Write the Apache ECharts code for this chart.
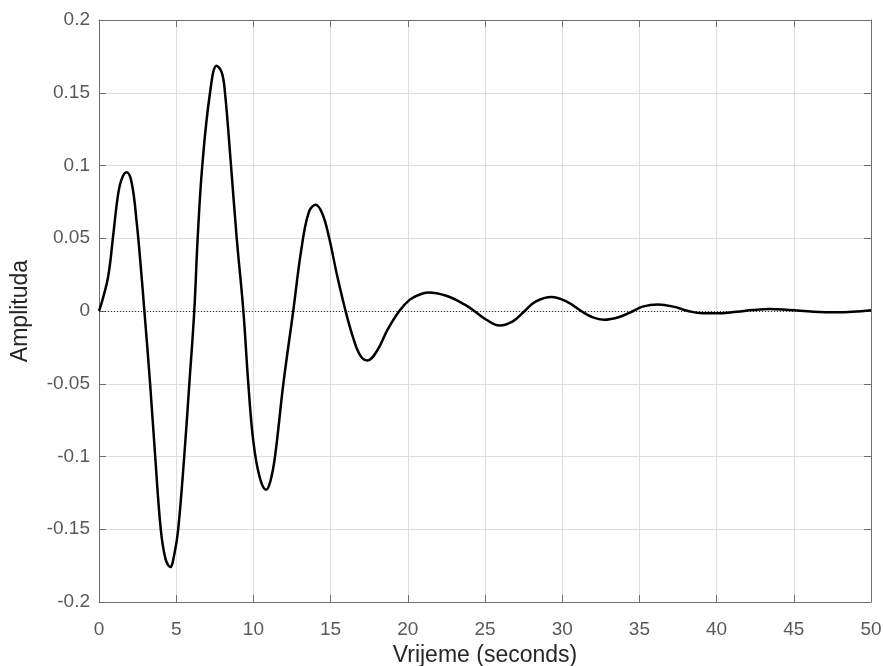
<!DOCTYPE html>
<html>
<head>
<meta charset="utf-8">
<script src="https://cdn.jsdelivr.net/npm/echarts@6/dist/echarts.min.js"></script>
<style>
html,body{margin:0;padding:0;background:#fff;}
#chart{width:883px;height:666px;}
</style>
</head>
<body>
<div id="chart"></div>
<script>
// Time (s)
var timeValues = [0, 0.2, 0.6, 0.93, 1.25, 1.5, 1.79, 2.12, 2.45, 2.7, 2.94, 3.31, 3.64, 4.0, 4.3, 4.61, 4.9, 5.13, 5.52, 5.85, 6.17, 6.39, 6.69, 7.19, 7.62, 7.95, 8.16, 8.55, 8.92, 9.35, 9.67, 10.0, 10.4, 10.82, 11.1, 11.4, 11.94, 12.58, 13.1, 13.59, 14.03, 14.46, 14.89, 15.43, 15.97, 16.51, 16.95, 17.38, 18.03, 18.68, 19.45, 20.13, 20.7, 21.3, 22.5, 23.69, 24.3, 25.09, 25.95, 26.8, 27.57, 28.3, 29.3, 30.26, 31.23, 31.99, 32.7, 33.7, 34.6, 35.2, 36.2, 37.2, 38.1, 39.1, 40.0, 41.3, 42.35, 43.4, 44.7, 46.3, 47.8, 50];
// Amplitude
var amplitudeValues = [0, 0.0066, 0.024, 0.053, 0.081, 0.0915, 0.0953, 0.088, 0.06, 0.031, 0, -0.05, -0.1, -0.15, -0.17, -0.176, -0.166, -0.15, -0.1, -0.05, 0, 0.05, 0.1, 0.15, 0.1686, 0.164, 0.15, 0.1, 0.05, 0, -0.05, -0.09, -0.114, -0.1228, -0.117, -0.1, -0.05, 0, 0.042, 0.068, 0.073, 0.067, 0.051, 0.024, 0, -0.02, -0.031, -0.034, -0.027, -0.013, 0, 0.0078, 0.011, 0.0128, 0.0105, 0.0044, 0, -0.006, -0.0099, -0.0071, 0, 0.0066, 0.0096, 0.0066, 0, -0.0044, -0.006, -0.0041, 0, 0.003, 0.0044, 0.003, 0.0002, -0.0016, -0.0016, -0.0005, 0.0007, 0.0014, 0.0007, -0.0005, -0.0009, 0.0005];
var xTickRange = [0, 50, 5];
var yTickRange = [-0.2, 0.2, 0.05];
var xTitle = 'Vrijeme (seconds)';
var yTitle = 'Amplituda';

var points = timeValues.map(function (t, i) { return [t, amplitudeValues[i]]; });

var FONT = '"Liberation Sans", Arial, Helvetica, sans-serif';
var AXIS_COLOR = '#6e6e6e';
var LABEL_COLOR = '#595959';
var GRID_COLOR = '#dedede';

var chart = echarts.init(document.getElementById('chart'), null, {renderer: 'canvas'});
chart.setOption({
  animation: false,
  backgroundColor: '#ffffff',
  grid: {left: 99, right: 12, top: 20, bottom: 64, containLabel: false, outerBoundsMode: 'none'},
  xAxis: [{
    type: 'value', position: 'bottom',
    min: xTickRange[0], max: xTickRange[1], interval: xTickRange[2],
    axisLine: {show: true, onZero: false, lineStyle: {color: AXIS_COLOR, width: 1}},
    axisTick: {show: true, inside: true, length: 7, lineStyle: {color: AXIS_COLOR}},
    axisLabel: {show: true, margin: 18, color: LABEL_COLOR, fontSize: 19, fontFamily: FONT},
    splitLine: {show: true, lineStyle: {color: GRID_COLOR, width: 1}},
    name: xTitle, nameLocation: 'middle', nameGap: 42,
    nameTextStyle: {color: '#262626', fontSize: 23, fontFamily: FONT}
  }, {
    type: 'value', position: 'top',
    min: xTickRange[0], max: xTickRange[1], interval: xTickRange[2],
    axisLine: {show: true, onZero: false, lineStyle: {color: AXIS_COLOR, width: 1}},
    axisTick: {show: true, inside: true, length: 7, lineStyle: {color: AXIS_COLOR}},
    axisLabel: {show: false},
    splitLine: {show: false}
  }],
  yAxis: [{
    type: 'value', position: 'left',
    min: yTickRange[0], max: yTickRange[1], interval: yTickRange[2],
    axisLine: {show: true, onZero: false, lineStyle: {color: AXIS_COLOR, width: 1}},
    axisTick: {show: true, inside: true, length: 7, lineStyle: {color: AXIS_COLOR}},
    axisLabel: {show: true, margin: 9, color: LABEL_COLOR, fontSize: 19, fontFamily: FONT,
      formatter: function (v) { return String(+v.toFixed(2)); }},
    splitLine: {show: true, lineStyle: {color: GRID_COLOR, width: 1}},
    name: yTitle, nameLocation: 'middle', nameGap: 67,
    nameTextStyle: {color: '#262626', fontSize: 23, fontFamily: FONT}
  }, {
    type: 'value', position: 'right',
    min: yTickRange[0], max: yTickRange[1], interval: yTickRange[2],
    axisLine: {show: true, onZero: false, lineStyle: {color: AXIS_COLOR, width: 1}},
    axisTick: {show: true, inside: true, length: 7, lineStyle: {color: AXIS_COLOR}},
    axisLabel: {show: false},
    splitLine: {show: false}
  }],
  series: [{
    type: 'line',
    xAxisIndex: 0, yAxisIndex: 0,
    data: points,
    smooth: 0.4,
    showSymbol: false,
    symbol: 'none',
    lineStyle: {color: '#000000', width: 2.5},
    z: 5,
    markLine: {
      silent: true,
      symbol: ['none', 'none'],
      label: {show: false},
      lineStyle: {color: '#333333', type: [1, 2], width: 1},
      data: [{yAxis: 0}],
      z: 3
    }
  }]
});
</script>
</body>
</html>
